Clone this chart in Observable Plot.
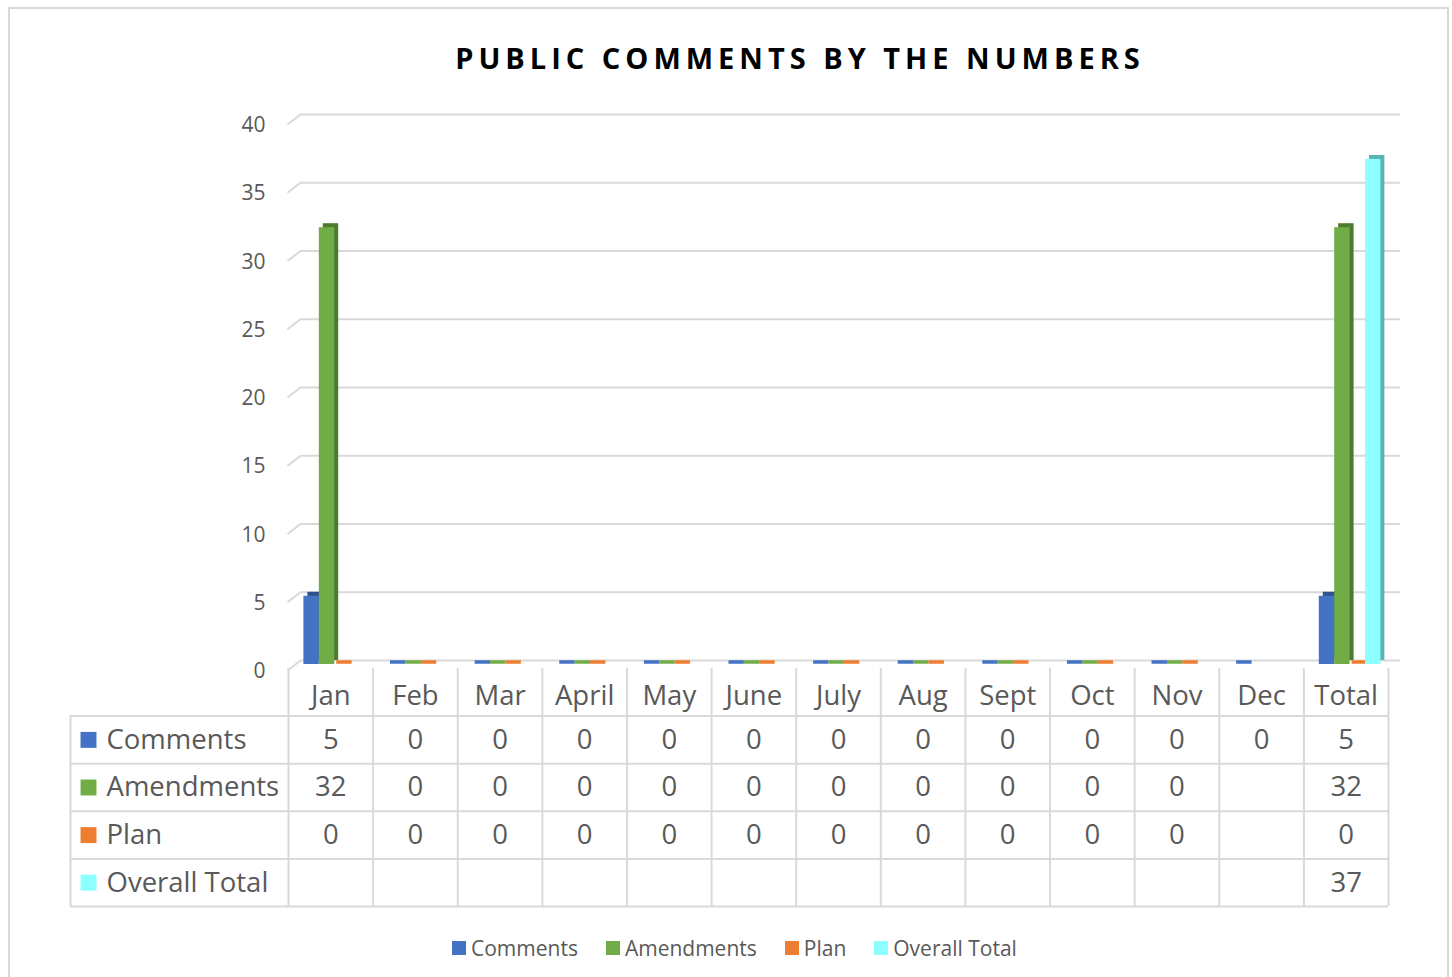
<!DOCTYPE html>
<html>
<head>
<meta charset="utf-8">
<script src="https://cdn.jsdelivr.net/npm/d3@7"></script>
<script src="https://cdn.jsdelivr.net/npm/@observablehq/plot@0.6"></script>
<style>
  html, body { margin: 0; padding: 0; overflow: hidden; background: #fff; width: 1452px; height: 977px; }
  #wrap { position: relative; width: 1452px; height: 977px; font-family: "Open Sans", sans-serif; }
  #border { position: absolute; left: 8px; top: 7px; width: 1441px; height: 1100px; border: 2px solid #d9d9d9; box-sizing: border-box; }
  #title { position: absolute; left: 800px; top: 39px; transform: translateX(-50%); white-space: nowrap;
           font-weight: 700; font-size: 29px; letter-spacing: 5px; color: #000; line-height: 38px; }
  .abs { position: absolute; left: 0; top: 0; }
  #legend { position: absolute; left: 452px; top: 934px; display: flex; align-items: center; font-size: 21px; color: #595959; line-height: 28px; }
  #legend .item { display: flex; align-items: center; margin-right: 28px; }
  #legend .sw { width: 14px; height: 14px; margin-right: 5px; }
</style>
</head>
<body>
<div id="wrap">
  <div id="border"></div>
  <div id="chart" class="abs"></div>
  <div id="table" class="abs"></div>
  <div id="title">PUBLIC COMMENTS BY THE NUMBERS</div>
  <div id="legend"></div>
</div>
<script>
// ---- data ----
const categories = ["Jan","Feb","Mar","April","May","June","July","Aug","Sept","Oct","Nov","Dec","Total"];
const seriesNames = ["Comments","Amendments","Plan","Overall Total"];
const comments     = [5, 0, 0, 0, 0, 0, 0, 0, 0, 0, 0, 0, 5];
const amendments   = [32, 0, 0, 0, 0, 0, 0, 0, 0, 0, 0, null, 32];
const plan         = [0, 0, 0, 0, 0, 0, 0, 0, 0, 0, 0, null, 0];
const overallTotal = [null, null, null, null, null, null, null, null, null, null, null, null, 37];
const yTicks = [0, 5, 10, 15, 20, 25, 30, 35, 40];

// ---- styling ----
const colors = ["#4472c4", "#70ad47", "#ed7d31", "#8cffff"];
const darks  = ["#2f528f", "#4e7a30", "#b85f22", "#5cb5b5"];
const grid = "#d9d9d9";
const textColor = "#595959";

const seriesValues = [comments, amendments, plan, overallTotal];
const N = categories.length;
const pxX = N / 1100;   // data units per pixel horizontally
const pxY = 40 / 546;   // data units per pixel vertically
const barOff = 15.4 * pxX, barW = 15.4 * pxX;
const L = (70 - 288) * pxX; // left edge of the label column

const bars = [], zeros = [], cells = [];
seriesValues.forEach((vals, k) => {
  vals.forEach((v, i) => {
    if (v == null) return;
    const x1 = i + barOff + k * barW;
    const rec = {x1, x2: x1 + barW, v, k};
    if (v > 0) bars.push(rec); else zeros.push(rec);
    cells.push({i, r: k + 1, v});
  });
});

const xScale = {type: "linear", domain: [0, N], range: [288, 1388], axis: null};
const baseStyle = {fontFamily: "Open Sans", color: textColor, background: "transparent", overflow: "visible"};

const chart = Plot.plot({
  width: 1452, height: 690,
  marginLeft: 300, marginRight: 52, marginTop: 0, marginBottom: 0,
  x: xScale,
  y: {domain: [0, 40], range: [664, 118], axis: null},
  color: {type: "identity"},
  style: {...baseStyle, fontSize: "21px"},
  marks: [
    Plot.ruleY(yTicks, {y: d => d, dy: -4, stroke: grid, strokeWidth: 2}),
    Plot.link(yTicks, {x1: -1 * pxX, y1: d => d - 6 * pxY, x2: 12 * pxX, y2: d => d + 4 * pxY, stroke: grid, strokeWidth: 2}),
    Plot.text(yTicks, {x: 0, y: d => d, text: d => String(d), textAnchor: "end", dx: -23, dy: 7, fill: textColor}),
    Plot.ruleY(zeros, {y: 0, x1: "x1", x2: "x2", stroke: d => colors[d.k], strokeWidth: 3.5, dy: -2.5, dx: 2}),
    Plot.rect(bars, {x1: "x1", x2: "x2", y1: 0, y2: "v", fill: d => darks[d.k], dx: 4, dy: -4}),
    Plot.rect(bars, {x1: "x1", x2: "x2", y1: 0, y2: "v", fill: d => colors[d.k]})
  ]
});
document.getElementById("chart").appendChild(chart);

const table = Plot.plot({
  width: 1452, height: 920,
  marginLeft: 0, marginRight: 0, marginTop: 0, marginBottom: 0,
  x: xScale,
  y: {type: "linear", domain: [0, 5], range: [668, 906], axis: null},
  color: {type: "identity"},
  style: {...baseStyle, fontSize: "27.5px"},
  marks: [
    Plot.ruleY([1, 2, 3, 4, 5], {y: d => d, x1: L, x2: N, stroke: grid, strokeWidth: 2}),
    Plot.ruleX(d3.range(N + 1), {x: d => d, y1: 0, y2: 5, stroke: grid, strokeWidth: 2}),
    Plot.ruleX([L], {x: d => d, y1: 1, y2: 5, stroke: grid, strokeWidth: 2}),
    Plot.text(categories, {x: (d, i) => i + 0.5, y: 0.5, text: d => d, dy: 4, fill: textColor}),
    Plot.text(cells, {x: d => d.i + 0.5, y: d => d.r + 0.5, text: d => String(d.v), fill: textColor}),
    Plot.dot(seriesNames, {x: L, y: (d, i) => i + 1.5, dx: 18, symbol: "square", r: 9, fill: (d, i) => colors[i], stroke: null}),
    Plot.text(seriesNames, {x: L, y: (d, i) => i + 1.5, text: d => d, textAnchor: "start", dx: 36, fill: textColor})
  ]
});
document.getElementById("table").appendChild(table);

// legend
const legend = document.getElementById("legend");
seriesNames.forEach((name, i) => {
  const item = document.createElement("div");
  item.className = "item";
  const sw = document.createElement("div");
  sw.className = "sw";
  sw.style.background = colors[i];
  const t = document.createElement("span");
  t.textContent = name;
  item.appendChild(sw); item.appendChild(t);
  legend.appendChild(item);
});
</script>
</body>
</html>
